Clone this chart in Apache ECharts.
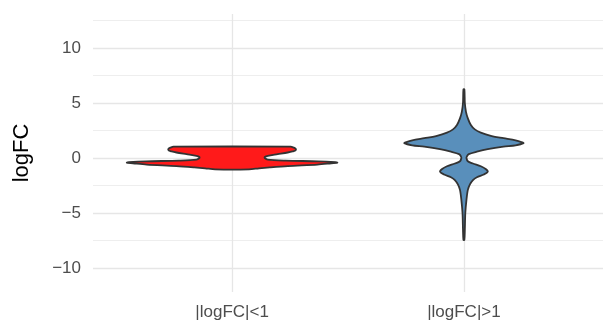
<!DOCTYPE html>
<html>
<head>
<meta charset="utf-8">
<script src="https://cdn.jsdelivr.net/npm/echarts@6/dist/echarts.min.js"></script>
<style>
  html, body { margin: 0; padding: 0; background: #fff; }
  #main { width: 603px; height: 323px; }
</style>
</head>
<body>
<div id="main"></div>
<script>
// groups on the x axis
var groups = ['|logFC|<1', '|logFC|>1'];

// violin outlines: logFC value and half width (x units)
var lowY = [1.03, 0.95, 0.85, 0.7, 0.6, 0.5, 0.35, 0.2, 0.1, 0.0, -0.15, -0.24, -0.3, -0.38, -0.42, -0.5, -0.6, -0.73, -0.85, -0.94, -1.03];
var lowW = [0.253, 0.265, 0.274, 0.274, 0.261, 0.240, 0.197, 0.154, 0.141, 0.141, 0.154, 0.231, 0.372, 0.445, 0.454, 0.420, 0.368, 0.240, 0.163, 0.116, 0.073];

var highY = [6.25, 5.0, 4.2, 3.6, 3.0, 2.6, 2.3, 2.0, 1.8, 1.6, 1.45, 1.35, 1.15, 1.03, 0.8, 0.57, 0.35, 0.15, 0.0, -0.3, -0.5, -0.75, -1.0, -1.25, -1.5, -1.75, -2.0, -2.4, -2.9, -3.8, -5.0, -6.5, -7.45];
var highW = [0.002, 0.004, 0.009, 0.017, 0.030, 0.047, 0.073, 0.120, 0.171, 0.223, 0.248, 0.257, 0.223, 0.171, 0.103, 0.056, 0.021, 0.013, 0.011, 0.017, 0.039, 0.073, 0.094, 0.103, 0.086, 0.056, 0.039, 0.026, 0.017, 0.011, 0.006, 0.004, 0.002];

// axis ticks
var yTicks = [-10, -5, 0, 5, 10];
var yMinor = [-7.5, -2.5, 2.5, 7.5, 12.5];
var xTicks = [1, 2];

var violins = [
    { ys: lowY, ws: lowW, fill: '#FF1A1A' },
    { ys: highY, ws: highW, fill: '#598FBB' }
];

var myChart = echarts.init(document.getElementById('main'));

function renderViolin(params, api) {
    var v = violins[params.dataIndex];
    var xc = api.value(0);
    var right = v.ys.map(function (y, i) { return api.coord([xc + v.ws[i], y]); });
    var left = v.ys.map(function (y, i) { return api.coord([xc - v.ws[i], y]); }).reverse();
    return {
        type: 'polygon',
        shape: { points: right.concat(left), smooth: 0.3 },
        style: { fill: v.fill, stroke: '#333333', lineWidth: 1.8, lineJoin: 'round' }
    };
}

function minus(v) {
    return v < 0 ? '\u2212' + Math.abs(v) : String(v);
}

var option = {
    animation: false,
    textStyle: { fontFamily: 'Liberation Sans' },
    grid: { left: 93, top: 14, bottom: 31, width: 514 },
    xAxis: {
        type: 'value',
        min: 0.4,
        max: 2.6,
        axisLine: { show: false },
        axisTick: { show: false, customValues: xTicks },
        axisLabel: {
            customValues: xTicks,
            color: '#4D4D4D',
            fontSize: 17,
            margin: 12,
            formatter: function (v) { return groups[Math.round(v) - 1]; }
        },
        splitLine: { show: true, lineStyle: { color: '#E6E6E6', width: 1.3 } }
    },
    yAxis: [
        {
            type: 'value',
            min: -12.18,
            max: 13.09,
            name: 'logFC',
            nameLocation: 'middle',
            nameGap: 60,
            nameTextStyle: { color: '#000', fontSize: 22 },
            axisLine: { show: false },
            axisTick: { show: false, customValues: yTicks },
            axisLabel: {
                customValues: yTicks,
                color: '#4D4D4D',
                fontSize: 17,
                margin: 12,
                formatter: minus
            },
            splitLine: { show: true, lineStyle: { color: '#E6E6E6', width: 1.3 } }
        },
        {
            type: 'value',
            min: -12.18,
            max: 13.09,
            position: 'right',
            axisLine: { show: false },
            axisTick: { show: false, customValues: yMinor },
            axisLabel: { show: false },
            splitLine: { show: true, lineStyle: { color: '#EEEEEE', width: 1 } }
        }
    ],
    series: [
        {
            type: 'custom',
            renderItem: renderViolin,
            data: [[1], [2]],
            z: 10
        }
    ]
};
myChart.setOption(option);
</script>
</body>
</html>
